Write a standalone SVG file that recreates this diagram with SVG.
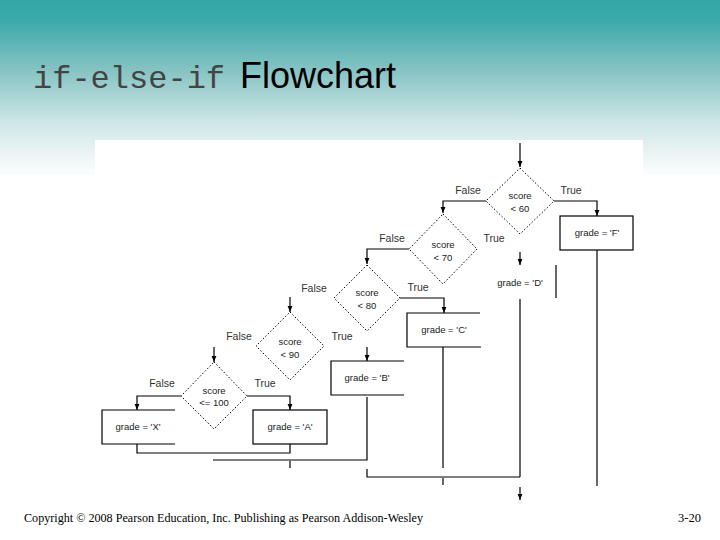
<svg xmlns="http://www.w3.org/2000/svg" width="720" height="540" viewBox="0 0 720 540">
<defs>
<linearGradient id="bg" x1="0" y1="0" x2="0" y2="1">
<stop offset="0" stop-color="#33a6a6"/>
<stop offset="0.12" stop-color="#3caaaa"/>
<stop offset="0.4" stop-color="#86c3c3"/>
<stop offset="0.7" stop-color="#cfe6e6"/>
<stop offset="0.9" stop-color="#eef6f6"/>
<stop offset="1" stop-color="#fbfdfd"/>
</linearGradient>
<marker id="ah" viewBox="0 0 10 10" refX="10" refY="5" markerWidth="6" markerHeight="6" orient="auto" markerUnits="userSpaceOnUse">
<path d="M0,1 L10,5 L0,9 z" fill="#000"/>
</marker>
<style>
.lbl{font-family:"Liberation Sans",Arial,sans-serif;font-size:10.5px;fill:#333;text-anchor:middle}
.txt{font-family:"Liberation Sans",Arial,sans-serif;font-size:9.5px;fill:#222;text-anchor:middle}
.dia{fill:none;stroke:#000;stroke-width:1;stroke-dasharray:1.5 2}
.box{fill:none;stroke:#000;stroke-width:1.2}
.ln{fill:none;stroke:#000;stroke-width:1.2}
.arr{fill:none;stroke:#000;stroke-width:1.2;marker-end:url(#ah)}
</style>
</defs>
<rect x="0" y="0" width="720" height="540" fill="#fff"/>
<rect x="0" y="0" width="720" height="175" fill="url(#bg)"/>
<rect x="95" y="140" width="548" height="360" fill="#fff"/>
<g id="title">
<text x="33" y="88" font-family="Liberation Mono,'Courier New',monospace" font-size="32" fill="#444">if-else-if</text>
<text x="240" y="88" font-family="Liberation Sans,Arial,sans-serif" font-size="36" fill="#000">Flowchart</text>
</g>
<g id="connectors">
<path class="arr" d="M520,143 V167"/>
<path class="arr" d="M486,201 H443 V213"/>
<path class="arr" d="M554,201 H597 V216"/>
<path class="ln" d="M597,250 V486"/>
<path class="arr" d="M409,249 H367 V264"/>
<path class="arr" d="M520,252 V265"/>
<path class="ln" d="M556,265 V298"/>
<path class="ln" d="M520,299 V477"/>
<path class="arr" d="M400,298 H444 V313"/>
<path class="ln" d="M443,347 V468 M443,478 V485"/>
<path class="arr" d="M290,297 V312"/>
<path class="arr" d="M367,347 V361"/>
<path class="ln" d="M367,397 V460 H213"/>
<path class="arr" d="M214,347 V362"/>
<path class="arr" d="M181,396 H137 V410"/>
<path class="arr" d="M247,396 H290 V410"/>
<path class="ln" d="M137,444 V453 H290 V444"/>
<path class="ln" d="M290,461 V468"/>
<path class="ln" d="M367,469 V477 H520"/>
<path class="arr" d="M520,487 V500"/>
<text class="lbl" x="468" y="194">False</text>
<text class="lbl" x="571" y="194">True</text>
<text class="lbl" x="392" y="242">False</text>
<text class="lbl" x="494" y="242">True</text>
<text class="lbl" x="314" y="292">False</text>
<text class="lbl" x="418" y="291">True</text>
<text class="lbl" x="239" y="340" fill="#666">False</text>
<text class="lbl" x="342" y="340">True</text>
<text class="lbl" x="162" y="387">False</text>
<text class="lbl" x="265" y="387">True</text>
</g>
<g id="d1"><polygon class="dia" points="520,168 554,201 520,234 486,201"/><text class="txt" x="520" y="199">score</text><text class="txt" x="520" y="212">&lt; 60</text></g>
<g id="d2"><polygon class="dia" points="443,214 477,249 443,284 409,249"/><text class="txt" x="443" y="248">score</text><text class="txt" x="443" y="261">&lt; 70</text></g>
<g id="d3"><polygon class="dia" points="367,265 400,298 367,331 334,298"/><text class="txt" x="367" y="296">score</text><text class="txt" x="367" y="309">&lt; 80</text></g>
<g id="d4"><polygon class="dia" points="290,312 324,346 290,380 256,346"/><text class="txt" x="290" y="345">score</text><text class="txt" x="290" y="358">&lt; 90</text></g>
<g id="d5"><polygon class="dia" points="214,362 247,396 214,429 181,396"/><text class="txt" x="214" y="394">score</text><text class="txt" x="214" y="406">&lt;= 100</text></g>
<g id="boxF"><rect class="box" x="560" y="216" width="73" height="34"/><text class="txt" x="597" y="236">grade = 'F'</text></g>
<g id="boxD"><text class="txt" x="520" y="286">grade = 'D'</text></g>
<g id="boxC"><path class="box" d="M480,313 H407 V347 H481"/><text class="txt" x="444" y="333">grade = 'C'</text></g>
<g id="boxB"><path class="box" d="M404,361 H331 V395 H404"/><text class="txt" x="367" y="381">grade = 'B'</text></g>
<g id="boxA"><rect class="box" x="253" y="410" width="74" height="34"/><text class="txt" x="290" y="430">grade = 'A'</text></g>
<g id="boxX"><path class="box" d="M175,410 H102 V444 H175"/><text class="txt" x="138" y="430">grade = 'X'</text></g>
<g id="footer">
<text x="24" y="522" font-family="Liberation Serif,'Times New Roman',serif" font-size="12.5" fill="#000" textLength="399" lengthAdjust="spacingAndGlyphs">Copyright © 2008 Pearson Education, Inc. Publishing as Pearson Addison-Wesley</text>
<text x="701" y="522" font-family="Liberation Serif,'Times New Roman',serif" font-size="12.5" fill="#000" text-anchor="end">3-20</text>
</g>
</svg>
